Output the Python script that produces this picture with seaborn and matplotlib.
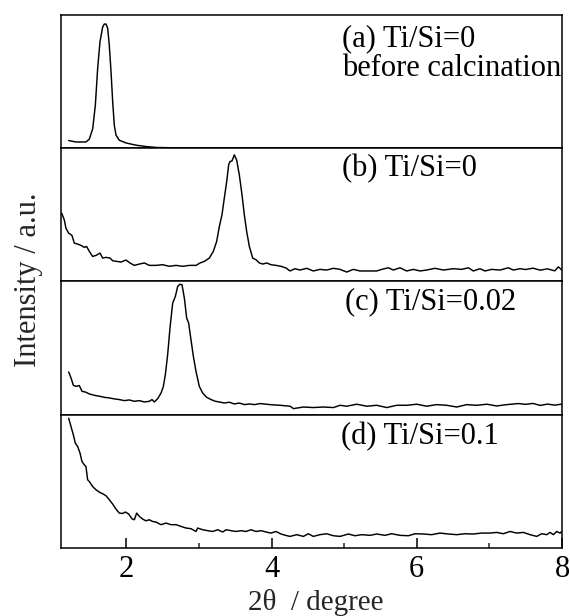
import matplotlib
matplotlib.use("Agg")
import matplotlib.pyplot as plt
from matplotlib.ticker import MultipleLocator
import numpy as np
import pandas as pd
import seaborn as sns

sns.set_style("white")
plt.rcParams['font.family'] = ['Liberation Serif', 'DejaVu Serif']

# ---------------- data (intensity in relative panel units) -------------
# (a) Ti/Si=0 before calcination
x_a = [1.206, 1.307, 1.444, 1.49, 1.537, 1.573, 1.605, 1.637, 1.674, 1.696, 1.72, 1.743,
       1.765, 1.789, 1.812, 1.834, 1.858, 1.903, 1.995, 2.133, 2.27, 2.41, 2.6, 3.0, 4.0,
       5.0, 6.0, 7.0, 8.0]
y_a = [0.058, 0.047, 0.047, 0.068, 0.148, 0.323, 0.60, 0.80, 0.91, 0.932, 0.932, 0.90,
       0.774, 0.574, 0.348, 0.173, 0.098, 0.06, 0.04, 0.023, 0.013, 0.006, 0.004, 0.003,
       0.003, 0.003, 0.003, 0.003, 0.003]

# (b) Ti/Si=0
x_b = [1.109, 1.145, 1.168, 1.205, 1.251, 1.283, 1.329, 1.375, 1.421, 1.453, 1.49, 1.536,
       1.582, 1.637, 1.674, 1.72, 1.775, 1.811, 1.867, 1.926, 1.995, 2.05, 2.11, 2.179,
       2.248, 2.317, 2.408, 2.5, 2.592, 2.684, 2.776, 2.868, 2.96, 3.015, 3.074, 3.143,
       3.198, 3.244, 3.281, 3.317, 3.349, 3.382, 3.409, 3.427, 3.455, 3.487, 3.519, 3.556,
       3.593, 3.625, 3.657, 3.694, 3.74, 3.786, 3.832, 3.878, 3.933, 3.992, 4.061, 4.13,
       4.2, 4.254, 4.323, 4.392, 4.484, 4.575, 4.667, 4.759, 4.851, 4.943, 5.035, 5.126,
       5.218, 5.356, 5.448, 5.517, 5.609, 5.677, 5.769, 5.861, 5.953, 6.045, 6.136, 6.251,
       6.366, 6.504, 6.619, 6.71, 6.779, 6.871, 6.94, 7.032, 7.146, 7.261, 7.33, 7.422,
       7.5, 7.6, 7.7, 7.8, 7.9, 7.95, 8.0]
y_b = [0.513, 0.463, 0.40, 0.363, 0.346, 0.288, 0.281, 0.271, 0.256, 0.263, 0.226, 0.188,
       0.196, 0.213, 0.176, 0.181, 0.176, 0.156, 0.151, 0.146, 0.161, 0.139, 0.121, 0.131,
       0.139, 0.121, 0.121, 0.126, 0.114, 0.121, 0.114, 0.121, 0.121, 0.139, 0.151, 0.176,
       0.226, 0.301, 0.413, 0.50, 0.625, 0.75, 0.875, 0.90, 0.905, 0.95, 0.912, 0.80,
       0.65, 0.50, 0.376, 0.263, 0.176, 0.163, 0.139, 0.131, 0.139, 0.126, 0.121, 0.114,
       0.101, 0.079, 0.096, 0.086, 0.099, 0.079, 0.091, 0.086, 0.099, 0.091, 0.071, 0.091,
       0.079, 0.079, 0.079, 0.091, 0.103, 0.086, 0.103, 0.079, 0.091, 0.079, 0.086, 0.099,
       0.086, 0.096, 0.091, 0.103, 0.079, 0.096, 0.079, 0.091, 0.086, 0.103, 0.086, 0.096,
       0.09, 0.10, 0.085, 0.095, 0.08, 0.11, 0.085]

# (c) Ti/Si=0.02
x_c = [1.206, 1.238, 1.27, 1.307, 1.352, 1.389, 1.444, 1.49, 1.559, 1.628, 1.697, 1.766,
       1.834, 1.903, 1.972, 2.041, 2.11, 2.179, 2.248, 2.317, 2.353, 2.386, 2.432, 2.478,
       2.51, 2.537, 2.569, 2.601, 2.638, 2.675, 2.707, 2.739, 2.767, 2.799, 2.831, 2.858,
       2.89, 2.923, 2.959, 3.005, 3.051, 3.106, 3.166, 3.225, 3.28, 3.349, 3.418, 3.487,
       3.556, 3.625, 3.694, 3.763, 3.841, 3.979, 4.117, 4.255, 4.301, 4.438, 4.576, 4.714,
       4.852, 4.943, 5.035, 5.173, 5.311, 5.448, 5.586, 5.724, 5.862, 5.999, 6.137, 6.275,
       6.413, 6.55, 6.688, 6.826, 6.964, 7.101, 7.239, 7.4, 7.5, 7.6, 7.7, 7.8, 7.9, 8.0]
y_c = [0.321, 0.276, 0.221, 0.213, 0.219, 0.176, 0.169, 0.156, 0.146, 0.139, 0.131, 0.126,
       0.119, 0.114, 0.106, 0.111, 0.101, 0.106, 0.096, 0.101, 0.114, 0.096, 0.121, 0.163,
       0.213, 0.301, 0.451, 0.65, 0.838, 0.888, 0.963, 0.98, 0.975, 0.875, 0.725, 0.688,
       0.563, 0.438, 0.326, 0.213, 0.163, 0.131, 0.114, 0.101, 0.096, 0.088, 0.094, 0.081,
       0.088, 0.076, 0.081, 0.076, 0.084, 0.076, 0.071, 0.064, 0.046, 0.058, 0.054, 0.058,
       0.054, 0.071, 0.064, 0.079, 0.064, 0.071, 0.054, 0.071, 0.071, 0.079, 0.064, 0.076,
       0.071, 0.058, 0.076, 0.071, 0.079, 0.066, 0.076, 0.084, 0.078, 0.085, 0.07, 0.08,
       0.072, 0.08]

# (d) Ti/Si=0.1
x_d = [1.206, 1.238, 1.27, 1.297, 1.33, 1.362, 1.389, 1.421, 1.444, 1.467, 1.49, 1.536,
       1.582, 1.628, 1.674, 1.72, 1.766, 1.811, 1.857, 1.903, 1.949, 1.986, 2.032, 2.078,
       2.11, 2.142, 2.179, 2.225, 2.27, 2.316, 2.362, 2.408, 2.477, 2.546, 2.615, 2.684,
       2.753, 2.821, 2.89, 2.959, 2.982, 3.051, 3.12, 3.189, 3.258, 3.327, 3.373, 3.442,
       3.511, 3.58, 3.648, 3.717, 3.786, 3.855, 3.924, 3.992, 4.061, 4.13, 4.199, 4.254,
       4.346, 4.438, 4.507, 4.575, 4.667, 4.759, 4.851, 4.943, 5.057, 5.149, 5.241, 5.356,
       5.448, 5.563, 5.654, 5.769, 5.884, 5.976, 6.09, 6.205, 6.32, 6.435, 6.55, 6.664,
       6.779, 6.894, 7.009, 7.1, 7.192, 7.284, 7.376, 7.468, 7.56, 7.652, 7.72, 7.789,
       7.835, 7.881, 7.927, 7.973, 7.996]
y_d = [0.974, 0.911, 0.849, 0.787, 0.761, 0.712, 0.649, 0.624, 0.611, 0.512, 0.499, 0.461,
       0.437, 0.419, 0.407, 0.392, 0.362, 0.33, 0.292, 0.262, 0.259, 0.27, 0.255, 0.219,
       0.212, 0.262, 0.237, 0.217, 0.204, 0.212, 0.199, 0.195, 0.175, 0.187, 0.175, 0.175,
       0.162, 0.15, 0.145, 0.124, 0.15, 0.137, 0.13, 0.124, 0.137, 0.12, 0.137, 0.13,
       0.124, 0.13, 0.124, 0.137, 0.124, 0.13, 0.12, 0.112, 0.124, 0.105, 0.094, 0.087,
       0.10, 0.087, 0.107, 0.087, 0.10, 0.107, 0.092, 0.087, 0.105, 0.092, 0.10, 0.095,
       0.105, 0.095, 0.107, 0.095, 0.092, 0.107, 0.105, 0.10, 0.112, 0.105, 0.10, 0.107,
       0.105, 0.112, 0.112, 0.117, 0.107, 0.124, 0.112, 0.117, 0.10, 0.087, 0.107, 0.10,
       0.117, 0.10, 0.124, 0.112, 0.124]

labels = ["(a) Ti/Si=0\nbefore calcination", "(b) Ti/Si=0", "(c) Ti/Si=0.02", "(d) Ti/Si=0.1"]
xticks = [2, 4, 6, 8]
xlabel = "2θ  / degree"
ylabel = "Intensity / a.u."

series = [(x_a, y_a), (x_b, y_b), (x_c, y_c), (x_d, y_d)]

# ---------------- figure ----------------
W, H = 570, 616
fig = plt.figure(figsize=(W / 100, H / 100), dpi=100)
gs = fig.add_gridspec(4, 1, left=61 / W, right=562 / W, bottom=1 - 548 / H, top=1 - 15 / H,
                      hspace=0)
axes = [fig.add_subplot(gs[i]) for i in range(4)]

label_pos = [(0.56, 0.71), (0.56, 0.845), (0.566, 0.845), (0.558, 0.835)]

for i, (ax, (xs, ys)) in enumerate(zip(axes, series)):
    df = pd.DataFrame({"two_theta": xs, "intensity": ys})
    sns.lineplot(data=df, x="two_theta", y="intensity", ax=ax, color="black",
                 linewidth=1.05, estimator=None)
    ax.set_xlim(1.1, 8)
    ax.set_ylim(0, 1)
    ax.set_xlabel("")
    ax.set_ylabel("")
    ax.set_yticks([])
    for s in ax.spines.values():
        s.set_visible(True)
        s.set_color("black")
        s.set_linewidth(1.1)
    tx, ty = label_pos[i]
    ax.text(tx, ty, labels[i], transform=ax.transAxes, ha="left", va="center",
            fontsize=22, linespacing=1.07, color="black")
    if i < 3:
        ax.set_xticks([])
        ax.tick_params(axis="x", which="both", bottom=False, labelbottom=False)
    else:
        ax.set_xticks(xticks)
        ax.set_xticklabels([str(t) for t in xticks])
        ax.xaxis.set_minor_locator(MultipleLocator(1))
        ax.tick_params(axis="x", which="major", direction="in", length=7, width=1.1,
                       labelsize=22, pad=5, bottom=True, top=False, colors="black")
        ax.tick_params(axis="x", which="minor", direction="in", length=3.6, width=1.1,
                       bottom=True, top=False)

fig.text(316 / W, 1 - 603 / H, xlabel, ha="center", va="center", fontsize=21)
fig.text(29 / W, 1 - 280 / H, ylabel, ha="center", va="center", rotation=90, fontsize=22)

fig.savefig("out.png", dpi=100, facecolor="white")
